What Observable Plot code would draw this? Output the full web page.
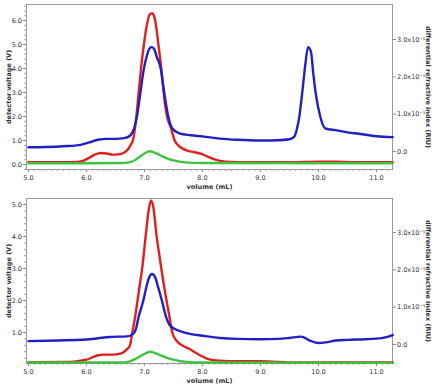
<!DOCTYPE html>
<html><head><meta charset="utf-8">
<script src="https://cdn.jsdelivr.net/npm/d3@7"></script>
<script src="https://cdn.jsdelivr.net/npm/@observablehq/plot@0.6"></script>
<style>
body{margin:0;background:#fff;}
#c svg{display:block;}
</style>
</head><body><div id="c"></div>
<script>
// ---------- data ----------
// top panel (detector voltage, V)
const topRedX   = [5.0,5.5,5.85,5.95,6.05,6.15,6.25,6.35,6.45,6.55,6.65,6.72,6.77,6.8,6.83,6.86,6.9,6.94,6.99,7.04,7.09,7.13,7.17,7.21,7.24,7.29,7.33,7.39,7.46,7.52,7.62,7.74,7.85,7.97,8.1,8.2,8.3,8.4,8.6,9.0,9.5,10.0,10.3,10.6,11.28];
const topRedY   = [0.1,0.1,0.11,0.16,0.28,0.42,0.48,0.46,0.41,0.42,0.5,0.65,0.85,1.0,1.4,2.0,3.0,4.0,5.0,5.8,6.25,6.3,6.15,5.6,5.0,4.0,3.0,2.0,1.5,1.0,0.72,0.58,0.52,0.45,0.32,0.22,0.15,0.12,0.1,0.1,0.1,0.12,0.12,0.1,0.1];
const topBlueX  = [5.0,5.3,5.6,5.9,6.05,6.2,6.35,6.5,6.65,6.75,6.82,6.87,6.93,6.99,7.05,7.09,7.13,7.17,7.21,7.28,7.34,7.41,7.48,7.6,7.8,8.0,8.3,8.6,9.0,9.3,9.5,9.58,9.63,9.67,9.72,9.77,9.82,9.87,9.91,9.95,10.03,10.12,10.3,10.5,10.7,11.0,11.28];
const topBlueY  = [0.72,0.73,0.76,0.82,0.92,1.03,1.07,1.07,1.1,1.2,1.5,2.0,3.0,4.0,4.6,4.85,4.89,4.8,4.5,4.0,3.0,2.0,1.5,1.3,1.22,1.17,1.08,1.03,1.0,1.01,1.05,1.15,1.5,2.0,3.0,4.1,4.89,4.7,3.8,3.0,2.0,1.5,1.43,1.34,1.28,1.18,1.14];
const topGreenX = [5.0,6.0,6.6,6.75,6.85,6.95,7.03,7.09,7.15,7.22,7.3,7.4,7.5,7.6,7.75,8.0,11.28];
const topGreenY = [0.05,0.05,0.06,0.1,0.2,0.38,0.5,0.55,0.52,0.45,0.35,0.25,0.17,0.12,0.08,0.06,0.05];
// bottom panel (detector voltage, V)
const botRedX   = [5.0,5.7,5.9,6.0,6.1,6.2,6.3,6.45,6.6,6.7,6.75,6.79,6.84,6.88,6.92,6.96,7.02,7.07,7.11,7.15,7.21,7.25,7.29,7.38,7.43,7.48,7.55,7.65,7.76,7.9,8.0,8.1,8.3,8.6,9.0,9.3,9.6,11.28];
const botRedY   = [0.07,0.08,0.12,0.15,0.22,0.29,0.31,0.31,0.35,0.48,0.6,1.0,1.5,2.0,2.5,3.0,4.0,4.8,5.13,4.95,4.0,3.5,3.0,2.0,1.5,1.0,0.75,0.6,0.5,0.35,0.25,0.17,0.12,0.1,0.1,0.08,0.06,0.06];
const botBlueX  = [5.0,5.5,6.0,6.2,6.4,6.7,6.8,6.85,6.9,6.98,7.03,7.08,7.13,7.18,7.23,7.3,7.37,7.45,7.6,7.8,8.0,8.3,8.6,9.0,9.3,9.5,9.7,9.85,10.0,10.15,10.3,10.5,10.8,11.0,11.15,11.28];
const botBlueY  = [0.73,0.75,0.78,0.82,0.86,0.88,0.95,1.1,1.5,2.0,2.4,2.72,2.83,2.75,2.45,2.0,1.5,1.2,1.05,0.95,0.9,0.83,0.8,0.79,0.8,0.83,0.87,0.75,0.67,0.7,0.75,0.77,0.79,0.81,0.85,0.92];
const botGreenX = [5.0,6.6,6.75,6.85,6.95,7.03,7.09,7.15,7.22,7.3,7.4,7.5,7.6,7.75,8.0,11.28];
const botGreenY = [0.06,0.06,0.1,0.18,0.28,0.36,0.4,0.38,0.33,0.27,0.2,0.15,0.11,0.08,0.06,0.05];

// tick labels
const xTicks = [5,6,7,8,9,10,11];
const topYTicks = [0,1,2,3,4,5,6];
const botYTicks = [1,2,3,4,5];
const riuTicks = [0,1e-5,2e-5,3e-5];
const riuTickLabels = ["0.0","1.0x10\u207B\u2075","2.0x10\u207B\u2075","3.0x10\u207B\u2075"];
// right-axis calibration: V = zero + riu * perRiu
const topRiuZero = 0.54, topRiuPerUnit = 1.556e5;
const botRiuZero = 0.625, botRiuPerUnit = 1.1667e5;

const xLabel = "volume (mL)";
const yLabel = "detector voltage (V)";
const rLabel = "differential refractive index (RIU)";

const colors = {red:"#e0201e", blue:"#2020c4", green:"#3fc23f"};
const FONT = "DejaVu Sans, sans-serif";

function rows(xs, ys){ return xs.map((x,i)=>({x, y: ys[i]})); }

function panel(o){
  const rTickPos = riuTicks.map(v => o.riuZero + v*o.riuPer);
  const rLab = new Map(rTickPos.map((p,i)=>[p, riuTickLabels[i]]));
  const xMinor = d3.range(50, 113).map(d=>d/10);
  const yMinor = d3.range(Math.ceil(o.yDomain[0]*5), Math.floor(o.yDomain[1]*5)+1).map(d=>d/5);
  const line = (data, c) => Plot.line(data, {x:"x", y:"y", stroke: c, strokeWidth: 2.4, curve: "monotone-x"});
  return Plot.plot({
    width: 440, height: o.h,
    marginLeft: 26, marginRight: 48, marginTop: o.mt, marginBottom: o.mb,
    style: {fontFamily: FONT, fontSize: "6.5px", color: "#333", background: "#fff", overflow: "visible"},
    x: {domain: [4.966, 11.276]},
    y: {domain: o.yDomain},
    marks: [
      Plot.axisX(xMinor, {tickSize: 1.8, tickFormat: () => "", stroke: "#999", label: null}),
      Plot.axisX(xTicks, {tickSize: 3, tickPadding: 3, tickFormat: d3.format(".1f"), stroke: "#888", label: null}),
      Plot.axisY(yMinor, {anchor: "left", tickSize: 1.8, tickFormat: () => "", stroke: "#999", label: null}),
      Plot.axisY(o.yTicks, {anchor: "left", tickSize: 3, tickPadding: 1.5, tickFormat: d3.format(".1f"), stroke: "#888", label: null}),
      Plot.axisY(rTickPos, {anchor: "right", tickSize: 3, tickPadding: 1.5, tickFormat: d => rLab.get(d), stroke: "#888", label: null}),
      Plot.frame({stroke: "#999", strokeWidth: 1}),
      line(o.red, colors.red),
      line(o.blue, colors.blue),
      line(o.green, colors.green),
      Plot.text([xLabel], {frameAnchor: "bottom", dy: o.xLabelDy, textAnchor: "middle", fontWeight: "bold", fontSize: 6.5, fill: "#333"}),
      Plot.text([yLabel], {frameAnchor: "left", dx: -18, rotate: -90, textAnchor: "middle", fontWeight: "bold", fontSize: 6.5, fill: "#333"}),
      Plot.text([rLabel], {frameAnchor: "right", dx: 36, rotate: 90, textAnchor: "middle", fontWeight: "bold", fontSize: 6.5, fill: "#333"})
    ]
  });
}

const c = document.getElementById("c");
c.append(panel({
  h: 190, mt: 4, mb: 21, yDomain: [-0.208, 6.667], yTicks: topYTicks,
  riuZero: topRiuZero, riuPer: topRiuPerUnit, xLabelDy: 19,
  red: rows(topRedX, topRedY), blue: rows(topBlueX, topBlueY), green: rows(topGreenX, topGreenY)
}));
c.append(panel({
  h: 197, mt: 8, mb: 24, yDomain: [0.031, 5.19], yTicks: botYTicks,
  riuZero: botRiuZero, riuPer: botRiuPerUnit, xLabelDy: 19,
  red: rows(botRedX, botRedY), blue: rows(botBlueX, botBlueY), green: rows(botGreenX, botGreenY)
}));
</script>
</body></html>
